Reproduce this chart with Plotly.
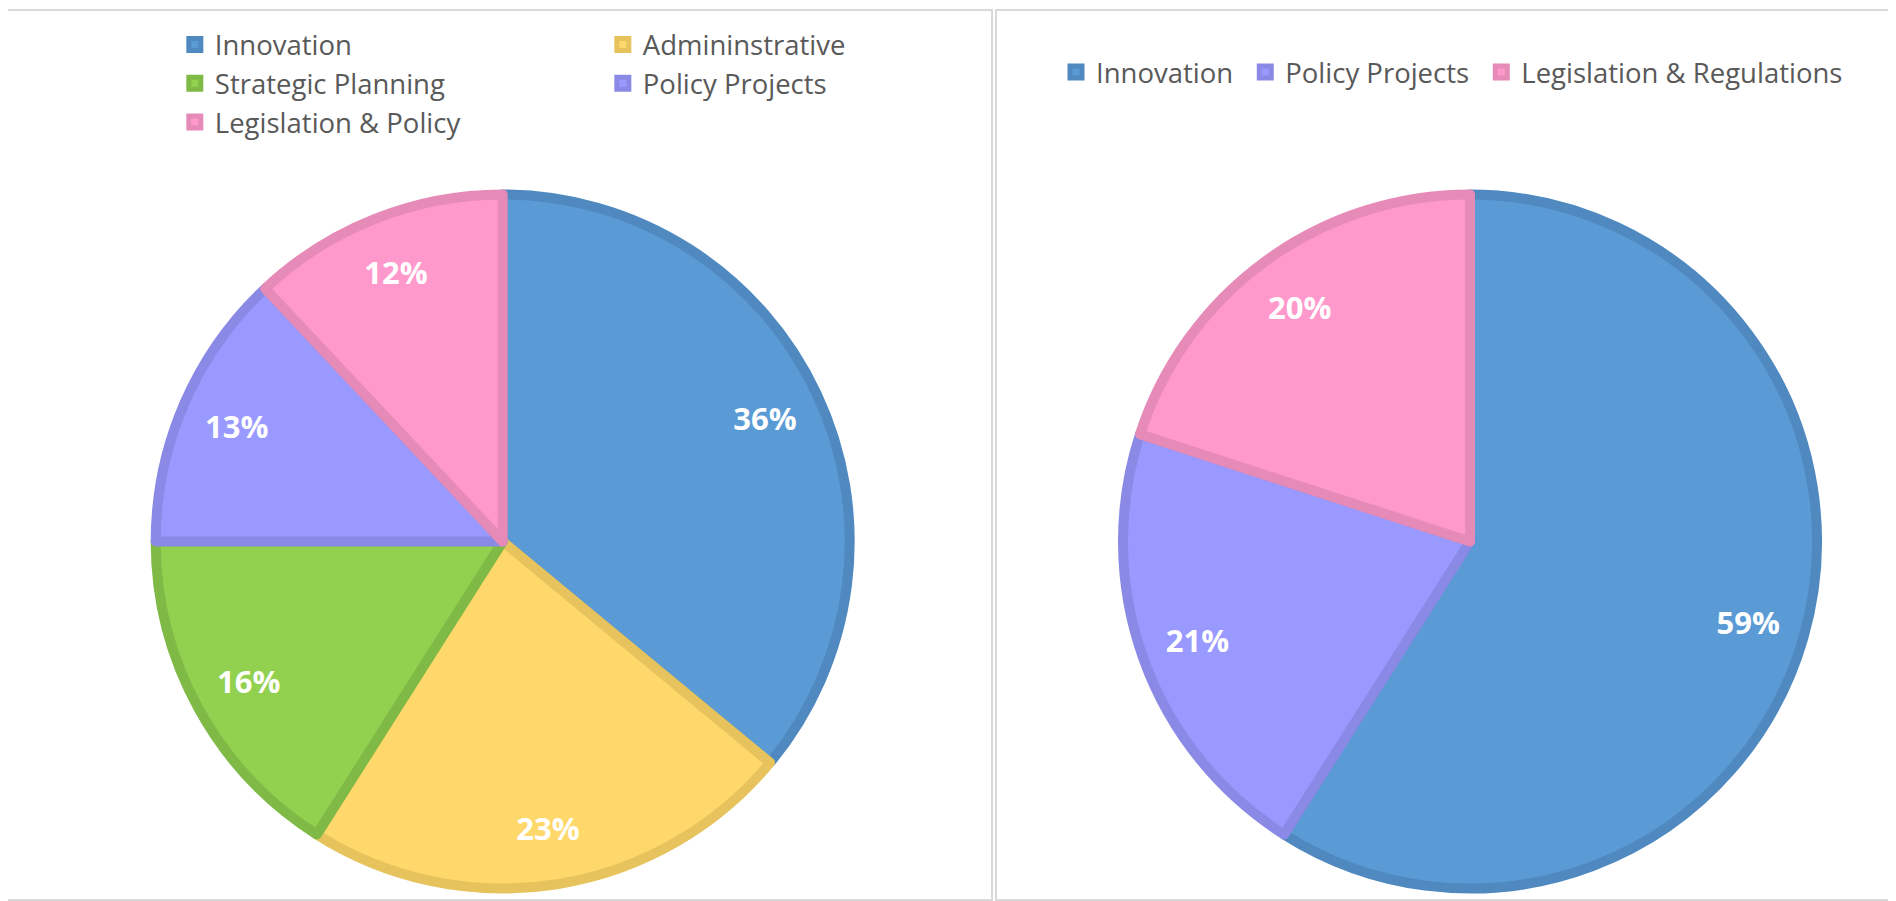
import plotly.graph_objects as go

# ---- data ----
left_labels = ["Innovation", "Admininstrative", "Strategic Planning", "Policy Projects", "Legislation & Policy"]
left_values = [36, 23, 16, 13, 12]
left_fill = ["#5B9BD5", "#FFD86B", "#92D050", "#9999FF", "#FF99CC"]
left_edge = ["#4F89C0", "#E6C35C", "#7FBA47", "#8A8AE6", "#E68AB8"]

# trailing space keeps these legend entries separate from the left chart's identical labels
right_labels = ["Innovation ", "Policy Projects ", "Legislation & Regulations"]
right_values = [59, 21, 20]
right_fill = ["#5B9BD5", "#9999FF", "#FF99CC"]
right_edge = ["#4F89C0", "#8A8AE6", "#E68AB8"]

W, H = 1896, 901
OFF = 8          # page body margin
ML = 142
PW = W - ML


def px_x(px):
    return (px - OFF - ML) / PW


def px_y(py):
    return 1 - (py - OFF) / H


LINE_W = 10
R = 347
CY = 541.5
y_dom = [px_y(CY + R), px_y(CY - R)]
left_dom = [px_x(502.7 - R), px_x(502.7 + R)]
right_dom = [px_x(1470 - R), px_x(1470 + R)]

label_font = dict(family="Open Sans", size=31, color="white", weight="bold")

fig = go.Figure()


def add_pie(labels, values, fill, edge, dom, legend):
    # filled pie with slice borders
    fig.add_trace(go.Pie(
        labels=labels, values=values, sort=False, direction="clockwise", rotation=0,
        marker=dict(colors=fill, line=dict(color=edge, width=LINE_W)),
        textinfo="none", domain=dict(x=dom, y=y_dom), legend=legend,
        hoverinfo="label+percent",
    ))
    # transparent ring used only to place the percentage labels
    fig.add_trace(go.Pie(
        labels=labels, values=values, sort=False, direction="clockwise", rotation=0,
        hole=0.67,
        marker=dict(colors=["rgba(0,0,0,0)"] * len(values), line=dict(width=0)),
        textinfo="percent", textposition="inside", insidetextorientation="horizontal",
        insidetextfont=label_font, domain=dict(x=dom, y=y_dom), showlegend=False,
        hoverinfo="skip",
    ))


add_pie(left_labels, left_values, left_fill, left_edge, left_dom, "legend")
add_pie(right_labels, right_values, right_fill, right_edge, right_dom, "legend2")

legend_font = dict(family="Open Sans", size=27.5, color="#595959")

border = dict(color="#D9D9D9", width=2)
shapes = [
    dict(type="rect", xref="paper", yref="paper", layer="below",
         x0=px_x(7), x1=px_x(992), y0=px_y(900), y1=px_y(10), line=border),
    dict(type="rect", xref="paper", yref="paper", layer="below",
         x0=px_x(996), x1=px_x(1920), y0=px_y(900), y1=px_y(10), line=border),
]

fig.update_layout(
    width=W, height=H,
    margin=dict(l=ML, r=0, t=0, b=0, autoexpand=False),
    paper_bgcolor="white", plot_bgcolor="white",
    shapes=shapes,
    legend=dict(orientation="h", x=-0.0001, xanchor="left", y=px_y(20), yanchor="top",
                font=legend_font, entrywidth=358, indentation=25,
                bgcolor="rgba(0,0,0,0)", traceorder="normal"),
    legend2=dict(orientation="h", x=px_x(1056), xanchor="left", y=px_y(47.5), yanchor="top",
                 font=legend_font, bgcolor="rgba(0,0,0,0)", traceorder="normal"),
)

fig.write_html("out.html")
